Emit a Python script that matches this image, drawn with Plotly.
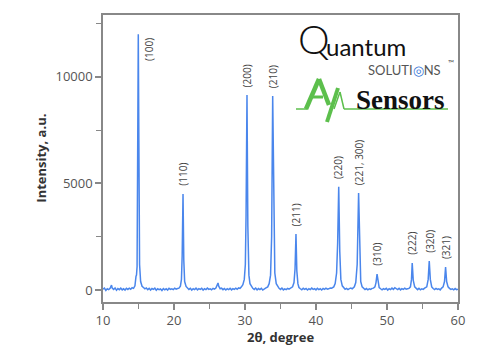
import plotly.graph_objects as go

two_theta = [
    10.0, 10.2, 10.4, 10.6, 10.8, 11.0, 11.2, 11.3, 11.5, 11.7, 11.9, 12.1, 12.3, 12.5, 12.7, 12.9,
    13.1, 13.3, 13.5, 13.7, 13.9, 14.1, 14.3, 14.5, 14.65, 14.72, 14.8, 14.9, 14.97, 15.05, 15.15,
    15.3, 15.5, 15.7, 15.9, 16.1, 16.3, 16.5, 16.7, 16.9, 17.1, 17.3, 17.5, 17.7, 17.9, 18.1, 18.3,
    18.5, 18.7, 18.9, 19.1, 19.3, 19.5, 19.7, 19.9, 20.1, 20.3, 20.5, 20.7, 20.9, 21.05, 21.15,
    21.27, 21.38, 21.5, 21.7, 21.9, 22.1, 22.3, 22.5, 22.7, 22.9, 23.1, 23.3, 23.5, 23.7, 23.9,
    24.1, 24.3, 24.5, 24.7, 24.9, 25.1, 25.3, 25.5, 25.7, 25.9, 26.1, 26.2, 26.3, 26.5, 26.7, 26.9,
    27.1, 27.3, 27.5, 27.7, 27.9, 28.1, 28.3, 28.5, 28.7, 28.9, 29.1, 29.3, 29.5, 29.7, 29.9, 30.05,
    30.15, 30.28, 30.4, 30.55, 30.7, 30.9, 31.1, 31.3, 31.5, 31.7, 31.9, 32.1, 32.3, 32.5, 32.7,
    32.9, 33.2, 33.4, 33.6, 33.75, 33.9, 34.05, 34.2, 34.4, 34.6, 34.8, 35.0, 35.2, 35.4, 35.6,
    35.8, 36.0, 36.2, 36.4, 36.7, 36.9, 37.05, 37.18, 37.3, 37.45, 37.6, 37.8, 38.0, 38.2, 38.4,
    38.6, 38.8, 39.0, 39.2, 39.4, 39.6, 39.8, 40.0, 40.2, 40.4, 40.6, 40.8, 41.0, 41.2, 41.4, 41.6,
    41.8, 42.0, 42.2, 42.5, 42.7, 42.9, 43.05, 43.2, 43.35, 43.5, 43.7, 43.9, 44.1, 44.3, 44.5,
    44.7, 44.9, 45.1, 45.4, 45.6, 45.8, 46.0, 46.15, 46.3, 46.5, 46.7, 46.9, 47.1, 47.3, 47.5, 47.7,
    47.9, 48.1, 48.3, 48.45, 48.6, 48.75, 48.9, 49.1, 49.3, 49.5, 49.7, 49.9, 50.1, 50.3, 50.5,
    50.7, 50.9, 51.1, 51.3, 51.5, 51.7, 51.9, 52.1, 52.3, 52.5, 52.7, 52.9, 53.1, 53.3, 53.45,
    53.55, 53.7, 53.9, 54.1, 54.3, 54.5, 54.7, 54.9, 55.1, 55.3, 55.6, 55.8, 55.95, 56.1, 56.3,
    56.5, 56.7, 56.9, 57.1, 57.3, 57.5, 57.7, 57.9, 58.1, 58.25, 58.4, 58.6, 58.8, 59.0, 59.2,
    59.4, 59.6, 59.8, 60.0,
]
intensity = [
    40, 90, -20, 60, 20, 80, 230, 90, 30, 100, -10, 70, 20, 90, 10, 60,
    0, 80, 30, 90, 40, 110, 80, 200, 650, 700, 1100, 6000, 12000, 7000, 1200,
    400, 180, 120, 60, 100, 20, 80, 0, 70, 30, 90, -10, 60, 20, 50, -20,
    70, 10, 60, 0, 80, 30, 60, 20, 90, 40, 70, 90, 180, 500, 1600,
    4500, 1400, 400, 170, 90, 30, 80, 0, 60, 20, 90, 10, 70, 30, 80,
    0, 60, 20, 90, 30, 60, 10, 80, 40, 90, 250, 330, 180, 60, 90, 20,
    70, 0, 60, 20, 80, 10, 70, 30, 90, 40, 100, 80, 150, 250, 500, 1200,
    3500, 9150, 3000, 700, 300, 150, 80, 30, 90, 10, 70, 20, 80, 0, 60,
    90, 150, 300, 700, 2500, 9100, 2800, 800, 300, 150, 80, 30, 90, 10, 60,
    20, 80, 40, 90, 150, 350, 1000, 2630, 900, 300, 120, 60, 10, 80, 30,
    70, 0, 60, 20, 90, 30, 70, 10, 80, 20, 60, 0, 70, 30, 90, 40,
    60, 100, 90, 150, 300, 800, 2200, 4840, 1800, 500, 200, 100, 40, 80, 20,
    70, 90, 60, 150, 350, 1200, 4550, 1500, 400, 150, 80, 20, 70, 10, 60, 30,
    80, 90, 150, 350, 750, 300, 120, 60, 10, 70, 30, 80, 0, 60, 20,
    90, 30, 110, 60, 20, 80, 10, 70, 30, 90, 40, 60, 80, 150, 500,
    1270, 450, 150, 70, 20, 80, 10, 60, 30, 90, 150, 500, 1360, 500, 150,
    70, 20, 80, 30, 60, 10, 90, 150, 400, 1080, 400, 150, 80, 30, 60,
    10, 70, 20, 40,
]

# Miller-index labels and where they sit
label_text = ["(110)", "(200)", "(210)", "(211)", "(220)", "(221, 300)",
              "(310)", "(222)", "(320)", "(321)"]
label_x = [21.27, 30.28, 33.9, 37.18, 43.2, 46.0, 48.6, 53.55, 55.95, 58.25]
label_y = [4500, 9150, 9100, 2630, 4840, 4550, 750, 1270, 1360, 1080]
top_label_text = "(100)"
top_label_x = 16.45
top_label_y = 11300

x_ticks = [10, 20, 30, 40, 50, 60]
y_ticks = [0, 5000, 10000]
y_tick_text = ["0", "5000", "10000"]

line_col = "#4a86ec"
axis_col = "#888888"
text_col = "#555555"
green = "#5cbf4c"
font_fam = "Open Sans, sans-serif"

fig = go.Figure()
fig.add_trace(go.Scatter(x=two_theta, y=intensity, mode="lines",
                         line=dict(color=line_col, width=1.5), showlegend=False,
                         hoverinfo="skip"))

annotations = []
for t, x, y in zip(label_text, label_x, label_y):
    annotations.append(dict(x=x, y=y, xref="x", yref="y", text=t, showarrow=False,
                            textangle=-90, xanchor="center", yanchor="bottom", yshift=6,
                            font=dict(family=font_fam, size=10, color="#444444")))
annotations.append(dict(x=top_label_x, y=top_label_y, xref="x", yref="y", text=top_label_text,
                        showarrow=False, textangle=-90, xanchor="center", yanchor="middle",
                        font=dict(family=font_fam, size=10, color="#444444")))

# Axis titles
annotations.append(dict(x=-0.177, y=0.5, xref="paper", yref="paper", text="Intensity, a.u.",
                        showarrow=False, textangle=-90, xanchor="center", yanchor="middle",
                        font=dict(family=font_fam, size=13, color="#333333", weight="bold")))
annotations.append(dict(x=0.5, y=-0.122, xref="paper", yref="paper", text="2θ, degree",
                        showarrow=False, xanchor="center", yanchor="middle",
                        font=dict(family=font_fam, size=13, color="#333333", weight="bold")))

# Logo (page pixel -> paper coordinates)
def px(xp):
    return (xp - 103) / 355.0

def py(yp):
    return (302 - yp) / 287.0

annotations += [
    dict(x=px(314), y=py(39), xref="paper", yref="paper", text="Q", showarrow=False,
         xanchor="center", yanchor="middle",
         font=dict(family="Lato, sans-serif", size=40, color="#111111", weight=300)),
    dict(x=px(324), y=py(46), xref="paper", yref="paper", text="uantum", showarrow=False,
         xanchor="left", yanchor="middle",
         font=dict(family="Lato, sans-serif", size=24, color="#111111")),
    dict(x=px(404), y=py(70), xref="paper", yref="paper",
         text="SOLUTI<span style='color:#3a78d8'>◎</span>NS", showarrow=False,
         xanchor="center", yanchor="middle",
         font=dict(family="Lato, sans-serif", size=13, color="#555555")),
    dict(x=px(451), y=py(63), xref="paper", yref="paper", text="™", showarrow=False,
         xanchor="center", yanchor="middle",
         font=dict(family="Lato, sans-serif", size=8, color="#555555")),
    dict(x=px(400), y=py(100), xref="paper", yref="paper", text="Sensors", showarrow=False,
         xanchor="center", yanchor="middle",
         font=dict(family="Liberation Serif, serif", size=27, color="#111111", weight="bold")),
]

def seg(p, q, w):
    return dict(type="line", xref="paper", yref="paper",
                x0=px(p[0]), y0=py(p[1]), x1=px(q[0]), y1=py(q[1]),
                line=dict(color=green, width=w))

shapes = [
    seg((296, 109), (307, 109), 1.5),
    seg((306, 109), (319, 79), 4.5),    # A left leg
    seg((319, 79), (329, 105), 4.5),    # A right leg / y left arm
    seg((311, 97), (323, 97), 3),       # A crossbar
    seg((338, 88), (327, 122), 4),      # y right arm + descender
    seg((334, 109), (340, 92), 1.5),    # pulse up
    seg((340, 92), (344, 109), 1.5),    # pulse down
    seg((344, 109), (448, 109), 1.5),
]

fig.update_layout(
    width=477, height=360,
    margin=dict(l=103, r=19, t=15, b=58),
    paper_bgcolor="white", plot_bgcolor="white",
    annotations=annotations, shapes=shapes,
    xaxis=dict(range=[10, 60], tickvals=x_ticks, showgrid=False, zeroline=False,
               showline=True, linecolor=axis_col, linewidth=1.5, mirror=True,
               ticks="outside", ticklen=6, tickcolor=axis_col, tickwidth=1.5,
               minor=dict(tickvals=[15, 25, 35, 45, 55], ticks="outside", ticklen=5,
                          tickcolor=axis_col, tickwidth=1.2),
               tickfont=dict(family=font_fam, size=13, color=text_col)),
    yaxis=dict(range=[-560, 12900], tickvals=y_ticks, ticktext=y_tick_text,
               showgrid=False, zeroline=False,
               showline=True, linecolor=axis_col, linewidth=1.5, mirror=True,
               ticks="outside", ticklen=6, tickcolor=axis_col, tickwidth=1.5,
               minor=dict(tickvals=[2500, 7500, 12500], ticks="outside", ticklen=5,
                          tickcolor=axis_col, tickwidth=1.2),
               tickfont=dict(family=font_fam, size=13, color=text_col)),
)

fig.write_html("out.html", config={"displayModeBar": False},
               post_script="document.body.style.margin='0';")
